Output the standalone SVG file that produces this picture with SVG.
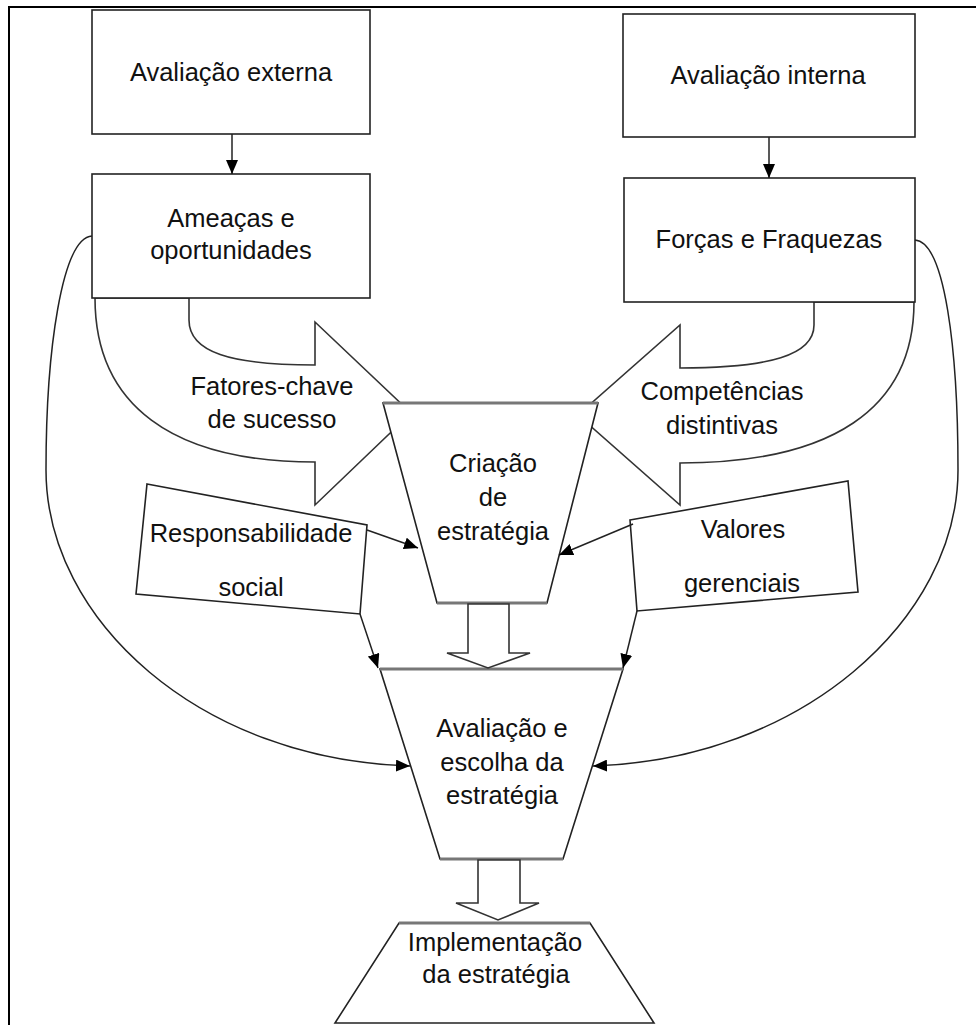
<svg xmlns="http://www.w3.org/2000/svg" width="976" height="1025" viewBox="0 0 976 1025">
<style>
  text { font-family: "Liberation Sans", Arial, sans-serif; font-size: 25.5px; fill: #111; text-anchor: middle; }
  .box { fill: #fff; stroke: #222; stroke-width: 1.6; }
  .bigarrow { fill: #fff; stroke: #333; stroke-width: 1.6; stroke-linejoin: miter; }
  .edge { stroke: #777; stroke-width: 3; }
  .conn { fill: none; stroke: #222; stroke-width: 1.5; }
</style>
<defs>
  <marker id="ah" markerUnits="userSpaceOnUse" markerWidth="14" markerHeight="12" refX="14" refY="6" orient="auto">
    <path d="M0,0 L14,6 L0,12 Z" fill="#000"/>
  </marker>
</defs>
<rect x="0" y="0" width="976" height="1025" fill="#fff"/>
<g id="frame">
  <line x1="8" y1="7" x2="976" y2="7" stroke="#000" stroke-width="2"/>
  <line x1="9" y1="6" x2="9" y2="1025" stroke="#000" stroke-width="2"/>
</g>

<g id="ksf-arrow">
  <path class="bigarrow" d="M95,298 C95,405 172,462 315,462 L315,505 L411,413 L315,322 L315,365 C230,365 189,352 189,320 L189,298 Z"/>
  <text x="272" y="395">Fatores-chave</text>
  <text x="272" y="428">de sucesso</text>
</g>
<g id="comp-arrow">
  <path class="bigarrow" d="M914,302 C914,410 830,463 680,463 L680,505 L578,415 L680,325 L680,368 C770,368 814,355 814,325 L814,302 Z"/>
  <text x="722" y="400">Competências</text>
  <text x="722" y="434">distintivas</text>
</g>

<g id="ext-eval">
  <rect class="box" x="92" y="10" width="278" height="124"/>
  <text x="231" y="81">Avaliação externa</text>
</g>
<g id="threats">
  <rect class="box" x="92" y="174" width="278" height="124"/>
  <text x="231" y="227">Ameaças e</text>
  <text x="231" y="259">oportunidades</text>
</g>
<g id="int-eval">
  <rect class="box" x="623" y="14" width="292" height="123"/>
  <text x="768" y="84">Avaliação interna</text>
</g>
<g id="strengths">
  <rect class="box" x="624" y="178" width="291" height="124"/>
  <text x="769" y="248">Forças e Fraquezas</text>
</g>

<g id="creation">
  <polygon class="box" points="383,403 598,403 547,603 437,603"/>
  <line class="edge" x1="383" y1="403" x2="598" y2="403"/>
  <line class="edge" x1="437" y1="603" x2="547" y2="603" stroke-width="2"/>
  <text x="493" y="472">Criação</text>
  <text x="493" y="506">de</text>
  <text x="493" y="540">estratégia</text>
</g>

<g id="social-resp">
  <polygon class="box" points="147,484 367,525 360,614 136,594"/>
  <text x="251" y="542">Responsabilidade</text>
  <text x="251" y="596">social</text>
</g>
<g id="mgr-values">
  <polygon class="box" points="630,520 848,481 858,592 637,611"/>
  <text x="743" y="538">Valores</text>
  <text x="742" y="592">gerenciais</text>
</g>

<g id="evaluation">
  <polygon class="box" points="380,669 623,669 563,859 440,859"/>
  <line class="edge" x1="380" y1="669" x2="623" y2="669"/>
  <line class="edge" x1="440" y1="859" x2="563" y2="859"/>
  <text x="502" y="737">Avaliação e</text>
  <text x="502" y="771">escolha da</text>
  <text x="502" y="804">estratégia</text>
</g>

<g id="implementation">
  <polygon class="box" points="399,923 590,923 654,1023 335,1023"/>
  <line class="edge" x1="399" y1="923" x2="590" y2="923"/>
  <text x="495" y="951">Implementação</text>
  <text x="496" y="983">da estratégia</text>
</g>

<g id="connectors">
  <line class="conn" x1="232" y1="134" x2="232" y2="174" marker-end="url(#ah)"/>
  <line class="conn" x1="769" y1="137" x2="769" y2="178" marker-end="url(#ah)"/>
  <line class="conn" x1="367" y1="530" x2="418" y2="548" marker-end="url(#ah)"/>
  <line class="conn" x1="633" y1="524" x2="559" y2="555" marker-end="url(#ah)"/>
  <line class="conn" x1="360" y1="614" x2="378" y2="668" marker-end="url(#ah)"/>
  <line class="conn" x1="637" y1="611" x2="623" y2="668" marker-end="url(#ah)"/>
  <path class="conn" d="M92,236 C62,238 46,350 46,470 C46,620 200,760 410,766" marker-end="url(#ah)"/>
  <path class="conn" d="M915,240 C945,242 958,350 958,470 C958,620 800,760 593,766" marker-end="url(#ah)"/>
  <polygon class="bigarrow" points="468,604 468,653 447,653 488,668 530,653 509,653 509,604"/>
  <polygon class="bigarrow" points="478,860 478,903 456,903 498,920 539,903 520,903 520,860"/>
</g>
</svg>
